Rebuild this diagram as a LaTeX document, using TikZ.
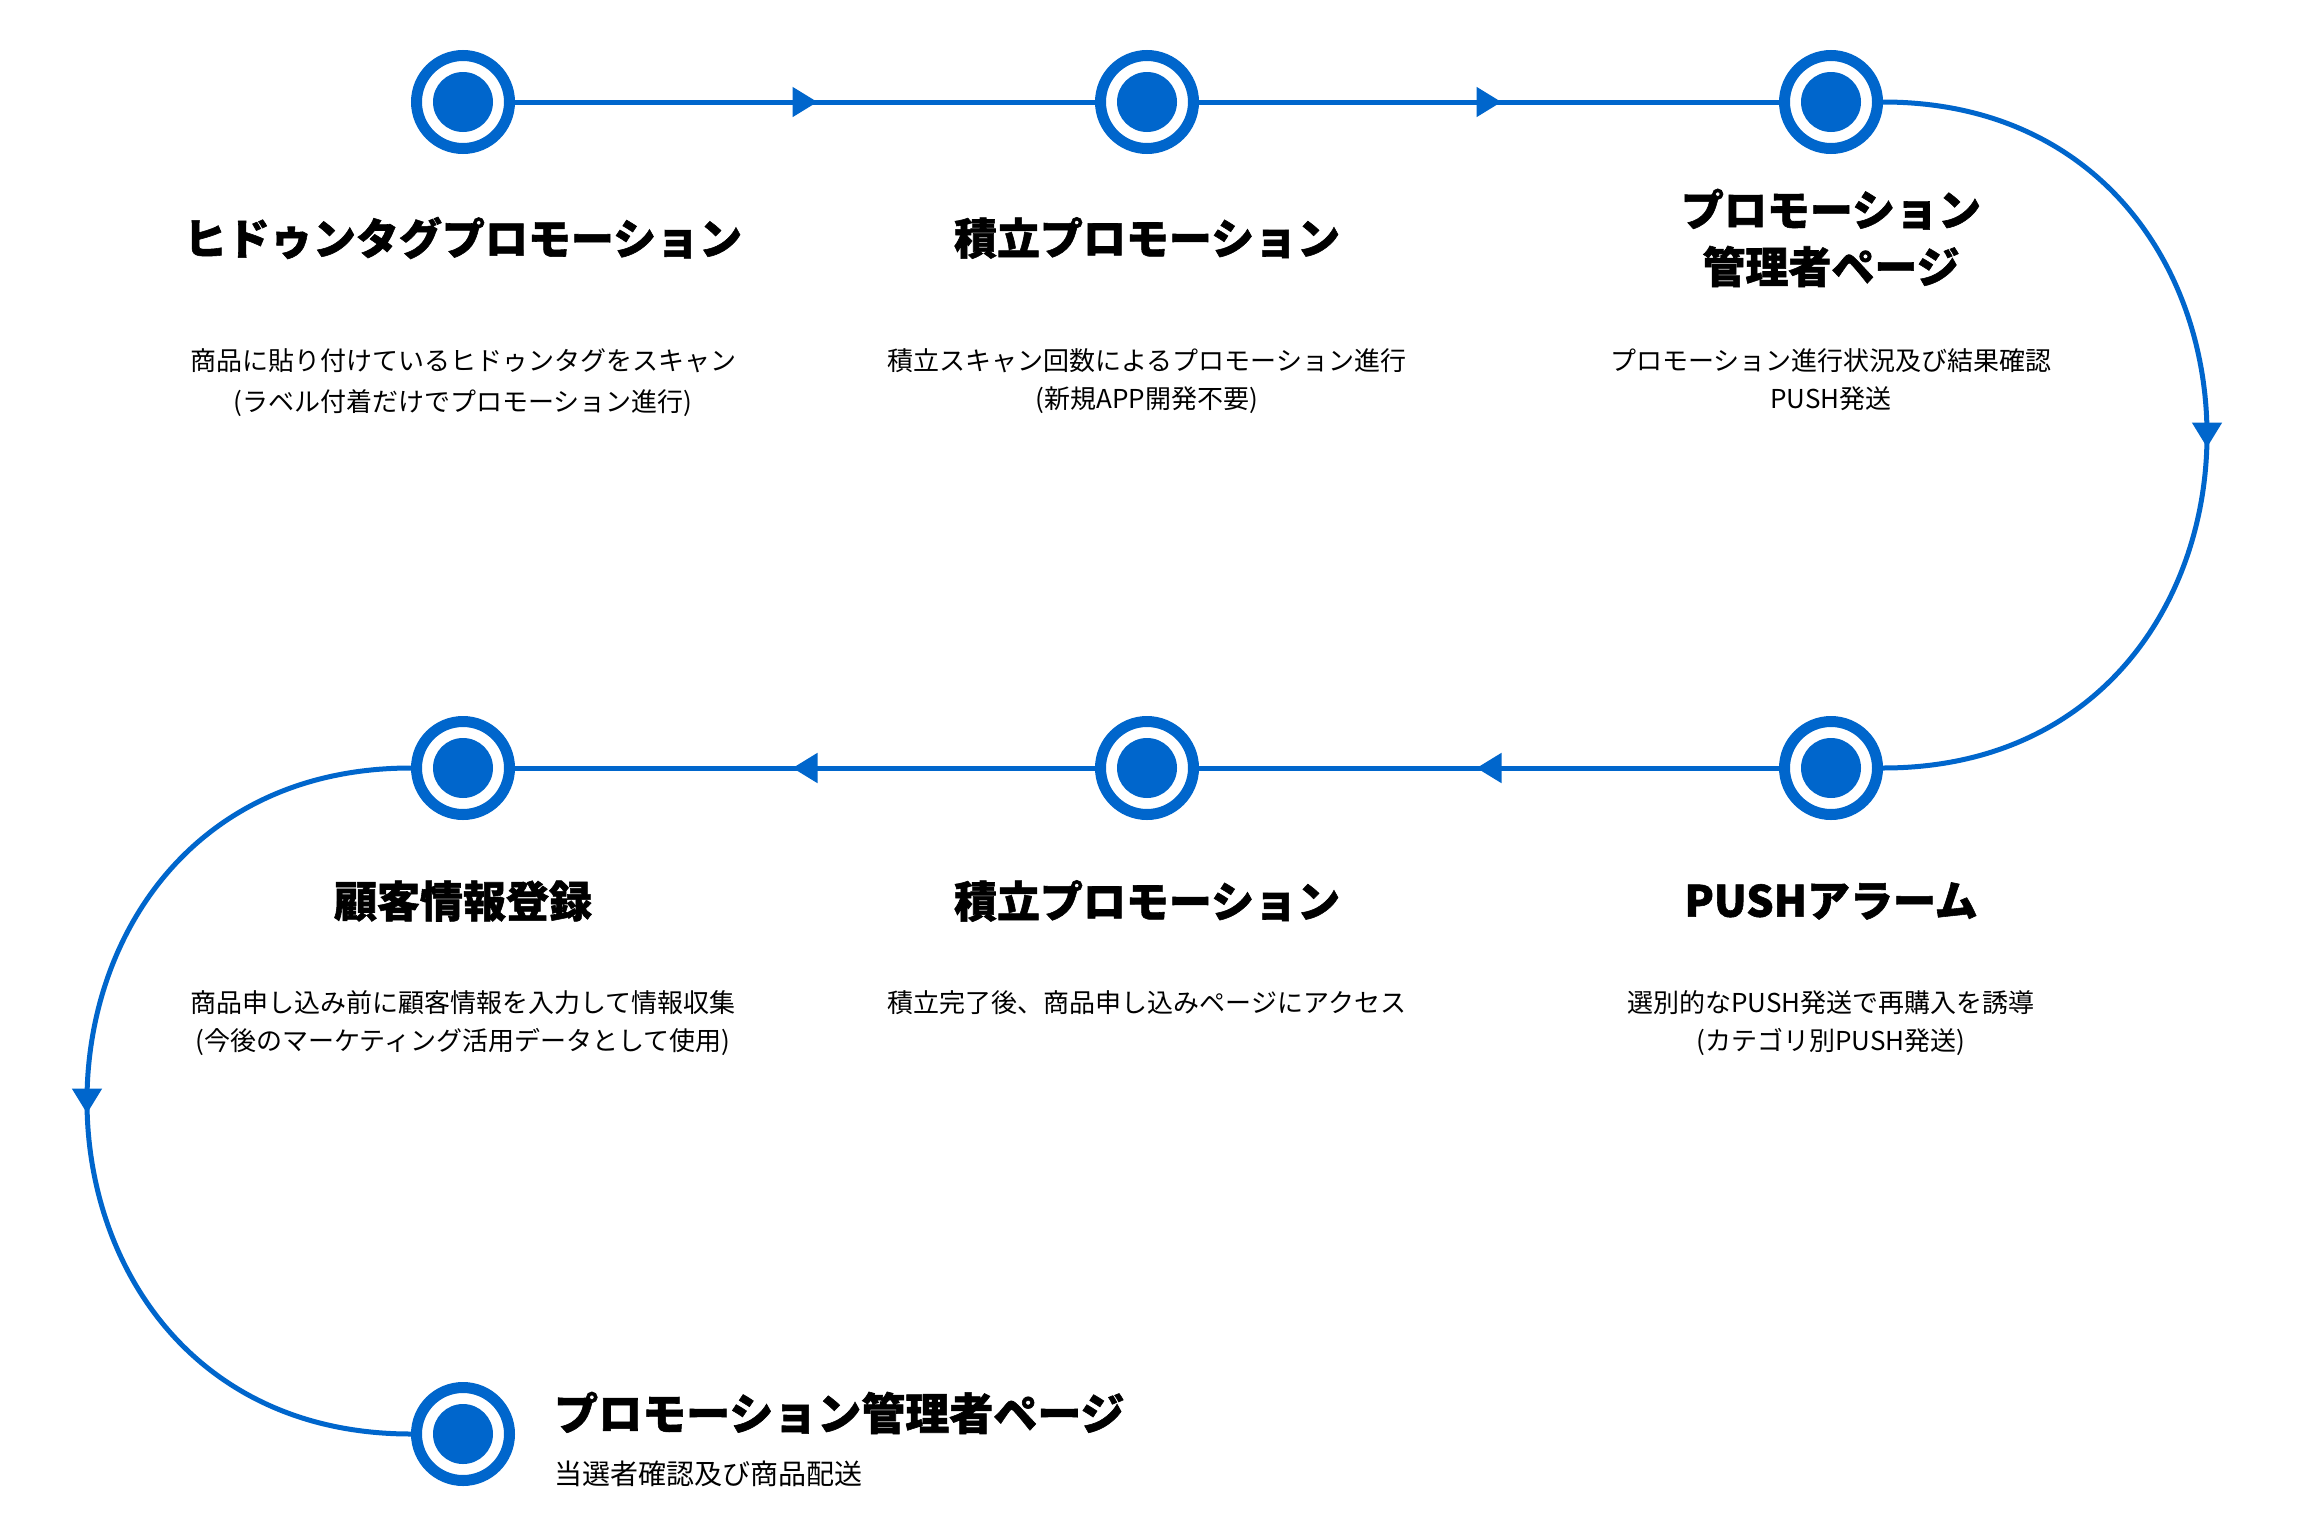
\documentclass[tikz,border=0pt]{standalone}
\usepackage{fontspec}
\setmainfont{Noto Sans CJK JP}[BoldFeatures={FakeBold=1.3}]
\usepackage{tikz}
\usetikzlibrary{arrows.meta,decorations.markings}
\definecolor{brandblue}{RGB}{0,102,204}

\begin{document}
\begin{tikzpicture}[x=1pt, y=-1pt,
    every node/.style={inner sep=0pt},
    milestone/.style={circle, draw=brandblue, line width=11pt, fill=white, minimum size=93pt,
      path picture={\fill[brandblue] (path picture bounding box.center) circle (30pt);}},
    ttl/.style={font=\bfseries\fontsize{43}{57}\selectfont, align=center},
    desc/.style={font=\fontsize{26}{38}\selectfont, align=center, anchor=north}]
        \useasboundingbox[fill=white] (0,0) rectangle (2297,1539);
        \tikzset{flow/.style={draw=brandblue, line width=5pt, postaction={decorate},
          decoration={markings, mark=at position 0.5 with {\arrow[brandblue,xshift=12.5pt]{Triangle[length=25pt,width=29pt]}}}}}
        % top level
        \node[milestone] (p1) at (463,102) {};
        \node[milestone] (p2) at (1147,102) {};
        \node[milestone] (p3) at (1831,102) {};
        \node[milestone] (p4) at (463,768) {};
        \node[milestone] (p5) at (1147,768) {};
        \node[milestone] (p6) at (1831,768) {};
        \node[milestone] (p7) at (463,1434) {};
        \path (p1) edge [flow] (p2);
        \path (p2) edge [flow] (p3);
        \path (p3) edge [flow, out=0, in=0, distance=432pt] (p6);
        \path (p6) edge [flow] (p5);
        \path (p5) edge [flow] (p4);
        \path (p4) edge [flow, out=180, in=180, distance=432pt] (p7);
        % titles
        \node[ttl] (t1) at (463,238) {ヒドゥンタグプロモーション};
        \node[ttl] (t2) at (1147,238) {積立プロモーション};
        \node[ttl] (t3) at (1831,238) {プロモーション\\管理者ページ};
        \node[ttl] (t4) at (463,901) {顧客情報登録};
        \node[ttl] (t5) at (1147,901) {積立プロモーション};
        \node[ttl] (t6) at (1831,901) {PUSHアラーム};
        \node[ttl, anchor=west, font=\bfseries\fontsize{44}{57}\selectfont] (t7) at (554,1413) {プロモーション管理者ページ};
        % descriptions
        \node[desc] (d1) at (463,348) {商品に貼り付けているヒドゥンタグをスキャン\\[3pt](ラベル付着だけでプロモーション進行)};
        \node[desc] (d2) at (1147,348) {積立スキャン回数によるプロモーション進行\\(新規APP開発不要)};
        \node[desc] (d3) at (1831,348) {プロモーション進行状況及び結果確認\\PUSH発送};
        \node[desc] (d4) at (463,990) {商品申し込み前に顧客情報を入力して情報収集\\(今後のマーケティング活用データとして使用)};
        \node[desc] (d5) at (1147,990) {積立完了後、商品申し込みページにアクセス};
        \node[desc] (d6) at (1831,990) {選別的なPUSH発送で再購入を誘導\\(カテゴリ別PUSH発送)};
        \node[desc, anchor=north west, font=\fontsize{28}{38}\selectfont] (d7) at (554,1461) {当選者確認及び商品配送};
      \end{tikzpicture}
\end{document}
